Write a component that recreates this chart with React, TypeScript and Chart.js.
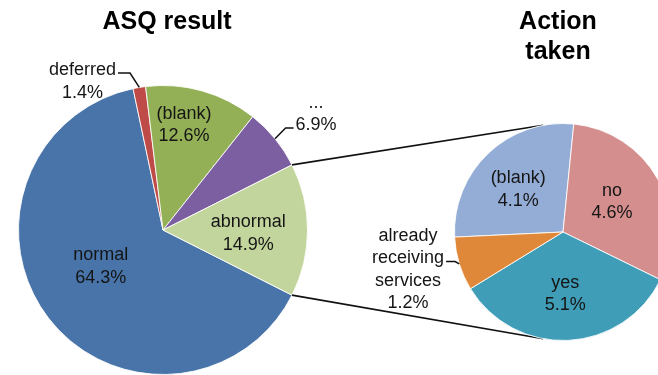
import React, { useEffect, useRef } from "react";
import { Chart, registerables } from "chart.js";
Chart.register(...registerables);

// ---- data ----
const mainCategories = ["normal", "deferred", "(blank)", "...", "abnormal"];
const mainValues = [64.3, 1.4, 12.6, 6.9, 14.9];
const subCategories = ["(blank)", "no", "yes", "already receiving services"];
const subValues = [4.1, 4.6, 5.1, 1.2];
const mainTitle = ["ASQ result"];
const subTitle = ["Action", "taken"];

// ---- styles ----
const mainColors = ["#4874A9", "#BE4B48", "#93B056", "#7C5FA0", "#C2D59C"];
const subColors = ["#94ADD6", "#D38E8D", "#3F9DB7", "#E08839"];
const FONT = '"Liberation Sans", Arial, sans-serif';
const LABEL_SIZE = 18;
const LINE_H = 22.5;

type Place = { d: number; k: number; leader?: { side: "left" | "right"; line: number; elbow: number } };
// label placement relative to each slice's middle angle (deg offset, fraction of radius)
const mainPlace: Place[] = [
  { d: 7, k: 0.5 },
  { d: -19, k: 1.17, leader: { side: "right", line: 0, elbow: 12 } },
  { d: -4.4, k: 0.74 },
  { d: 2, k: 1.33, leader: { side: "left", line: 1, elbow: 8 } },
  { d: 2.5, k: 0.59 },
];
const subPlace: Place[] = [
  { d: -3, k: 0.57 },
  { d: -2.4, k: 0.53 },
  { d: 0.7, k: 0.57 },
  { d: 3.4, k: 1.47, leader: { side: "right", line: 1, elbow: 9 } },
];

function makeLines(cats: string[], vals: number[], splitWords: boolean) {
  return cats.map((c, i) => [...(splitWords ? c.split(" ") : [c]), vals[i].toFixed(1) + "%"]);
}

function labelPlugin(lines: string[][], place: Place[], title: string[], titleDx: number, titleY: number) {
  return {
    id: "sliceLabels",
    afterDatasetsDraw(chart: any) {
      const ctx = chart.ctx as CanvasRenderingContext2D;
      const meta = chart.getDatasetMeta(0);
      ctx.save();
      ctx.font = `${LABEL_SIZE}px ${FONT}`;
      ctx.textAlign = "center";
      ctx.textBaseline = "middle";
      let cx = 0;
      meta.data.forEach((arc: any, i: number) => {
        const { x, y, startAngle, endAngle, outerRadius } = arc.getProps(
          ["x", "y", "startAngle", "endAngle", "outerRadius"],
          true
        );
        cx = x;
        const mid = (startAngle + endAngle) / 2;
        const p = place[i];
        const a = mid + (p.d * Math.PI) / 180;
        const lx = x + Math.cos(a) * outerRadius * p.k;
        const ly = y + Math.sin(a) * outerRadius * p.k;
        const ls = lines[i];
        ctx.fillStyle = "#151515";
        ls.forEach((t, j) => {
          ctx.fillText(t, lx, ly + (j - (ls.length - 1) / 2) * LINE_H);
        });
        if (p.leader) {
          const L = p.leader;
          const w = ctx.measureText(ls[L.line]).width;
          const yy = ly + (L.line - (ls.length - 1) / 2) * LINE_H + 3;
          const ax = L.side === "right" ? lx + w / 2 + 2 : lx - w / 2 - 2;
          const ex = L.side === "right" ? ax + L.elbow : ax - L.elbow;
          const px = x + Math.cos(mid) * outerRadius;
          const py = y + Math.sin(mid) * outerRadius;
          ctx.strokeStyle = "#111";
          ctx.lineWidth = 1.5;
          ctx.beginPath();
          ctx.moveTo(ax, yy);
          ctx.lineTo(ex, yy);
          ctx.lineTo(px, py);
          ctx.stroke();
        }
      });
      // title
      ctx.font = `bold 25px ${FONT}`;
      ctx.fillStyle = "#000";
      title.forEach((t, j) => ctx.fillText(t, cx + titleDx, titleY + j * 30));
      ctx.restore();
    },
  };
}

export default function App() {
  const aRef = useRef<HTMLCanvasElement>(null);
  const bRef = useRef<HTMLCanvasElement>(null);

  useEffect(() => {
    document.body.style.margin = "0";
    const chartA = new Chart(aRef.current!, {
      type: "pie",
      data: {
        labels: mainCategories,
        datasets: [
          {
            data: mainValues,
            backgroundColor: mainColors,
            borderColor: "rgba(255,255,255,0.85)",
            borderWidth: 1,
          },
        ],
      },
      options: {
        responsive: false,
        maintainAspectRatio: false,
        devicePixelRatio: 1,
        animation: false,
        events: [],
        rotation: 116.8,
        layout: { padding: { left: 18, right: 350, top: 85, bottom: 0 } },
        plugins: { legend: { display: false }, tooltip: { enabled: false }, title: { display: false } },
      },
      plugins: [labelPlugin(makeLines(mainCategories, mainValues, false), mainPlace, mainTitle, 4, 22)],
    });

    const connector = {
      id: "connector",
      beforeDatasetsDraw(chart: any) {
        const ctx = chart.ctx as CanvasRenderingContext2D;
        const am = chartA.getDatasetMeta(0);
        const arc: any = am.data[mainCategories.indexOf("abnormal")];
        const A = arc.getProps(["x", "y", "startAngle", "endAngle", "outerRadius"], true);
        const bArc: any = chart.getDatasetMeta(0).data[0];
        const B = bArc.getProps(["x", "y", "outerRadius"], true);
        const t1 = (-100.5 * Math.PI) / 180;
        const t2 = (100.5 * Math.PI) / 180;
        ctx.save();
        ctx.strokeStyle = "#111";
        ctx.lineWidth = 1.6;
        ctx.beginPath();
        ctx.moveTo(A.x + Math.cos(A.startAngle) * A.outerRadius, A.y + Math.sin(A.startAngle) * A.outerRadius);
        ctx.lineTo(B.x + Math.cos(t1) * B.outerRadius, B.y + Math.sin(t1) * B.outerRadius);
        ctx.moveTo(A.x + Math.cos(A.endAngle) * A.outerRadius, A.y + Math.sin(A.endAngle) * A.outerRadius);
        ctx.lineTo(B.x + Math.cos(t2) * B.outerRadius, B.y + Math.sin(t2) * B.outerRadius);
        ctx.stroke();
        ctx.restore();
      },
    };

    const chartB = new Chart(bRef.current!, {
      type: "pie",
      data: {
        labels: subCategories,
        datasets: [
          {
            data: subValues,
            backgroundColor: subColors,
            borderColor: "rgba(255,255,255,0.85)",
            borderWidth: 1,
          },
        ],
      },
      options: {
        responsive: false,
        maintainAspectRatio: false,
        devicePixelRatio: 1,
        animation: false,
        events: [],
        rotation: 267.3,
        layout: { padding: { left: 454, right: 28, top: 123, bottom: 34 } },
        plugins: { legend: { display: false }, tooltip: { enabled: false }, title: { display: false } },
      },
      plugins: [connector, labelPlugin(makeLines(subCategories, subValues, true), subPlace, subTitle, -5, 22)],
    });

    return () => {
      chartB.destroy();
      chartA.destroy();
    };
  }, []);

  return (
    <div
      style={{
        position: "fixed",
        left: 0,
        top: 0,
        width: 658,
        height: 375,
        overflow: "hidden",
        background: "#fff",
      }}
    >
      <canvas ref={aRef} width={658} height={375} style={{ position: "absolute", left: 0, top: 0 }} />
      <canvas ref={bRef} width={700} height={375} style={{ position: "absolute", left: 0, top: 0 }} />
    </div>
  );
}
